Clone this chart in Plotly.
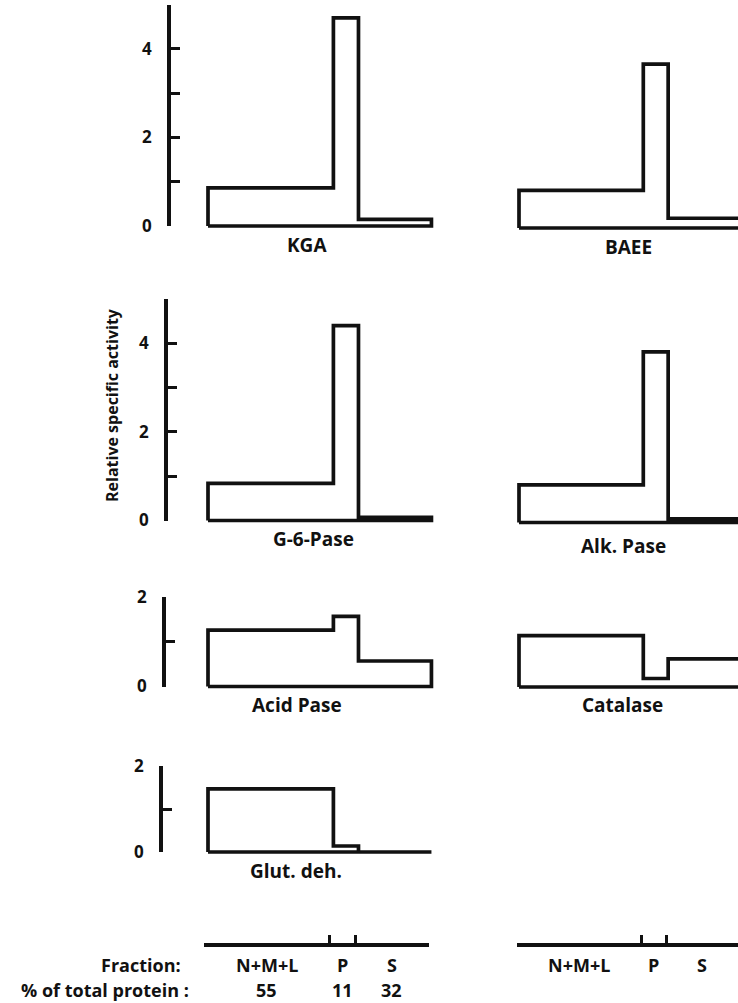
import plotly.graph_objects as go

# ---------------- data ----------------
fractions = ["N+M+L", "P", "S"]
protein_pct = [55, 11, 32]          # % of total protein in each fraction

enzymes = ["KGA", "BAEE", "G-6-Pase", "Alk. Pase", "Acid Pase", "Catalase", "Glut. deh."]
kga       = [0.86, 4.70, 0.15]
baee      = [0.85, 3.70, 0.22]
g6pase    = [0.84, 4.40, 0.07]
alk_pase  = [0.85, 3.85, 0.08]
acid_pase = [1.26, 1.57, 0.57]
catalase  = [1.15, 0.19, 0.63]
glut_deh  = [1.47, 0.14, 0.00]
values = [kga, baee, g6pase, alk_pase, acid_pase, catalase, glut_deh]

tall_ticks = [0, 1, 2, 3, 4, 5]
tall_text = ["0", "", "2", "", "4", ""]
short_ticks = [0, 1, 2]
short_text = ["0", "", "2"]

# ---------------- layout geometry (pixels) ----------------
W, H = 738, 1003
def fx(p): return p / W
def fy(p): return 1 - p / H

FONT = "Open Sans"
BLACK = "#111111"
LW = 3.7
LBL = 19

cols = {
    "L": dict(x0=208, s=2.28, dom=(196, 446)),
    "R": dict(x0=519, s=2.26, dom=(506, 738)),
}
# col, zero line (px), px per unit, label centre x (px), label centre y (px)
panel_geo = [
    ("L", 226.0, 44.3, 307, 245),
    ("R", 228.0, 44.3, 628, 247),
    ("L", 520.5, 44.3, 313, 539),
    ("R", 522.5, 44.3, 623, 546),
    ("L", 686.5, 44.7, 297, 705),
    ("R", 687.0, 44.7, 622, 705),
    ("L", 852.0, 43.0, 296, 871),
]
# rows of y-axes (left column): zero px, scale, max, axis x px, ticks, texts
row_axes = [
    (226.0, 44.3, 5, 171, tall_ticks, tall_text),
    (520.5, 44.3, 5, 168, tall_ticks, tall_text),
    (686.5, 44.7, 2, 166, short_ticks, short_text),
    (852.0, 43.0, 2, 163, short_ticks, short_text),
]

fig = go.Figure()
layout = dict(
    width=W, height=H, autosize=False,
    margin=dict(l=0, r=0, t=0, b=0, pad=0, autoexpand=False),
    paper_bgcolor="white", plot_bgcolor="rgba(0,0,0,0)",
    showlegend=False,
    font=dict(family=FONT, size=LBL, color=BLACK, weight="bold"),
)
annotations = []

# cumulative protein boundaries
bounds = [0]
for p in protein_pct:
    bounds.append(bounds[-1] + p)

ax_i = 0
def new_axes():
    global ax_i
    ax_i += 1
    sfx = "" if ax_i == 1 else str(ax_i)
    return ax_i, "x" + sfx, "y" + sfx, "xaxis" + sfx, "yaxis" + sfx

def placeholder(xr, yr):
    # empty trace so that the axis-only subplot is registered and drawn
    fig.add_trace(go.Scatter(x=[], y=[], xaxis=xr, yaxis=yr, mode="lines", hoverinfo="skip"))

# ---------------- enzyme panels ----------------
for name, vals, (col, zero, s, lx, ly) in zip(enzymes, values, panel_geo):
    c = cols[col]
    i, xr, yr, xk, yk = new_axes()
    xs, ys = [bounds[0]], [0]
    for k, v in enumerate(vals):
        xs += [bounds[k], bounds[k + 1]]
        ys += [v, v]
    xs += [bounds[-1], bounds[0]]
    ys += [0, 0]
    fig.add_trace(go.Scatter(x=xs, y=ys, mode="lines", xaxis=xr, yaxis=yr,
                             line=dict(color=BLACK, width=LW), hoverinfo="skip"))
    ymax_row = 5 if max(vals) > 2 else 2
    top_px = min(zero - 1, (ymax_row + 0.2) * s)
    bot_units = 0.35
    layout[xk] = dict(domain=[fx(c["dom"][0]), fx(c["dom"][1])],
                      range=[(c["dom"][0] - c["x0"]) / c["s"], (c["dom"][1] - c["x0"]) / c["s"]],
                      visible=False, anchor=yr, automargin=False)
    layout[yk] = dict(domain=[fy(zero + bot_units * s), fy(zero - top_px)],
                      range=[-bot_units, top_px / s], visible=False, anchor=xr, automargin=False)
    annotations.append(dict(text=name, xref=xr, yref="paper",
                            x=(lx - c["x0"]) / c["s"], y=fy(ly),
                            showarrow=False, xanchor="center", yanchor="middle"))

# ---------------- y axes (left column) ----------------
for zero, s, ymax, axpx, tv, tt in row_axes:
    i, xr, yr, xk, yk = new_axes()
    placeholder(xr, yr)
    layout[xk] = dict(domain=[fx(axpx), fx(axpx + 20)], range=[0, 1], visible=False,
                      anchor=yr, automargin=False)
    layout[yk] = dict(domain=[fy(zero), fy(zero - ymax * s)], range=[0, ymax], anchor=xr,
                      side="left", showline=True, linewidth=LW, linecolor=BLACK,
                      ticks="inside", ticklen=9, tickwidth=3, tickcolor=BLACK,
                      tickvals=tv, ticktext=tt, ticklabelstandoff=12,
                      showgrid=False, zeroline=False, automargin=False,
                      tickfont=dict(size=17, family=FONT, color=BLACK, weight="bold"))

annotations.append(dict(text="Relative specific activity", xref="paper", yref="paper",
                        x=fx(112), y=fy(405), textangle=-90, showarrow=False,
                        xanchor="center", yanchor="middle", font=dict(size=16)))

# ---------------- fraction brackets ----------------
ROW_FR, ROW_PCT, BOT = 964.5, 990, 18
brackets = [
    dict(dom=(204, 428.5), s=2.29, show_pct=True),
    dict(dom=(517, 738), s=2.26, show_pct=False),
]
for b in brackets:
    i, xr, yr, xk, yk = new_axes()
    placeholder(xr, yr)
    rng_max = (b["dom"][1] - b["dom"][0]) / b["s"]
    layout[xk] = dict(domain=[fx(b["dom"][0]), fx(b["dom"][1])], range=[0, rng_max],
                      anchor=yr, side="bottom", showline=True, linewidth=LW, linecolor=BLACK,
                      ticks="inside", ticklen=8, tickwidth=3, tickcolor=BLACK,
                      tickvals=[v for v in bounds if v <= rng_max], showticklabels=False,
                      showgrid=False, zeroline=False, automargin=False)
    layout[yk] = dict(domain=[fy(943), fy(925)], range=[0, 1], visible=False, anchor=xr,
                      automargin=False)
    for k, fr in enumerate(fractions):
        mid = (bounds[k] + bounds[k + 1]) / 2
        annotations.append(dict(text=fr, xref=xr, yref="paper", x=mid, y=fy(ROW_FR),
                                showarrow=False, xanchor="center", yanchor="middle",
                                font=dict(size=BOT)))
        if b["show_pct"]:
            annotations.append(dict(text=str(protein_pct[k]), xref=xr, yref="paper", x=mid,
                                    y=fy(ROW_PCT), showarrow=False, xanchor="center",
                                    yanchor="middle", font=dict(size=BOT)))

annotations.append(dict(text="Fraction:", xref="paper", yref="paper", x=fx(183), y=fy(ROW_FR),
                        showarrow=False, xanchor="right", yanchor="middle", font=dict(size=BOT)))
annotations.append(dict(text="% of total protein :", xref="paper", yref="paper", x=fx(191),
                        y=fy(ROW_PCT), showarrow=False, xanchor="right", yanchor="middle",
                        font=dict(size=BOT)))

layout["annotations"] = annotations
fig.update_layout(**layout)
fig.write_html("out.html")
